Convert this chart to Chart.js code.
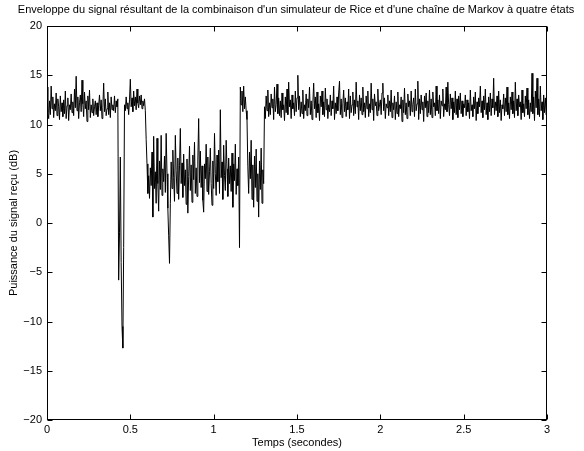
<!DOCTYPE html>
<html>
<head>
<meta charset="utf-8">
<script src="https://cdn.jsdelivr.net/npm/chart.js@4/dist/chart.umd.min.js"></script>
<style>
html, body { margin: 0; padding: 0; background: #fff; }
#wrap { width: 584px; height: 451px; }
</style>
</head>
<body>
<div id="wrap"><canvas id="envChart" width="584" height="451"></canvas></div>
<script>
// Enveloppe du signal : simulateur de Rice + chaîne de Markov à 4 états
const titre = "Enveloppe du signal résultant de la combinaison d'un simulateur de Rice et d'une chaîne de Markov à quatre états";
const labelX = "Temps (secondes)";
const labelY = "Puissance du signal reçu (dB)";
const ticksX = [0, 0.5, 1, 1.5, 2, 2.5, 3];
const ticksY = [-20, -15, -10, -5, 0, 5, 10, 15, 20];
const pasTemps = 0.005; // un échantillon toutes les 5 ms

// valeurs (dB), 20 par ligne = 0.1 s
const puissance = [
  13.8, 11.2, 10.6, 12.4, 11.0, 13.9, 11.6, 12.8, 10.7, 12.1, 11.4, 13.2, 10.9, 12.6, 11.8, 10.5, 12.9, 11.3, 12.2, 10.8, // 0.0
  12.5, 11.1, 13.4, 10.6, 11.9, 12.7, 10.4, 12.0, 11.5, 13.1, 11.2, 12.3, 10.9, 13.6, 11.7, 14.9, 11.4, 12.8, 10.6, 12.2, // 0.1
  13.0, 11.3, 14.5, 12.1, 10.8, 13.3, 11.6, 12.4, 10.3, 12.9, 11.5, 13.5, 10.7, 12.0, 11.2, 12.6, 10.9, 11.8, 12.4, 11.0, // 0.2
  12.2, 10.8, 11.9, 13.0, 11.4, 12.5, 10.6, 11.7, 14.2, 11.3, 12.6, 10.9, 11.6, 13.3, 11.0, 12.2, 10.7, 12.8, 11.5, 12.0, // 0.3
  11.4, 12.9, 11.2, 12.4, 11.8, 12.6, -5.8, -1.0, 6.7, -4.0, -10.5, -12.7, -2.5, 12.0, 11.4, 12.8, 11.6, 12.2, 11.0, 12.5, // 0.4
  14.6, 11.8, 12.7, 11.3, 13.4, 11.9, 12.8, 11.5, 13.6, 12.2, 11.7, 12.9, 12.0, 13.0, 11.6, 12.4, 11.9, 12.6, 11.4, 8.5, // 0.5
  6.0, 3.0, 4.8, 2.5, 5.6, 3.8, 7.2, 0.6, 8.8, 3.5, 5.2, 2.0, 8.6, 4.0, 1.2, 6.3, 3.4, 8.9, 2.8, 5.5, // 0.6
  4.2, 6.8, 3.1, 9.1, 5.0, 1.5, -1.3, -4.1, 2.0, 6.2, 3.5, 7.4, 4.6, 2.2, 8.9, 5.3, 3.0, 6.6, 2.4, 5.8, // 0.7
  9.6, 4.0, 6.1, 2.6, 7.0, 3.8, 5.4, 1.9, 6.5, 1.0, 4.7, 7.8, 3.3, 5.9, 2.1, 6.9, 4.4, 8.2, 3.0, 5.6, // 0.8
  2.7, 6.4, 10.6, 4.1, 7.3, 3.6, 5.8, 2.3, 1.1, 6.0, 4.5, 8.0, 3.2, 6.7, 2.9, 5.2, 7.6, 4.0, 1.8, 6.3, // 0.9
  3.5, 9.1, 5.0, 2.8, 6.9, 4.2, 7.4, 3.0, 11.5, 4.6, 6.2, 2.4, 7.9, 4.8, 3.3, 8.4, 5.5, 2.7, 6.6, 4.0, // 1.0
  5.8, 3.2, 7.1, 1.6, 6.0, 4.3, 8.0, 2.9, 5.5, 3.8, 6.7, -2.5, 13.8, 12.0, 13.4, 11.3, 13.9, 11.6, 12.8, 11.4, // 1.1
  10.5, 5.7, 3.0, 7.2, 4.5, 8.4, 2.4, 5.9, 1.6, 6.8, 3.6, 7.5, 2.2, 5.0, 0.6, 6.3, 3.4, 7.6, 2.0, 5.4, // 1.2
  4.0, 11.8, 10.6, 12.9, 11.4, 13.5, 10.8, 12.2, 11.0, 13.1, 11.7, 12.6, 10.5, 13.8, 11.3, 12.0, 14.1, 11.1, 12.7, 10.9, // 1.3
  12.4, 10.7, 13.2, 11.5, 12.0, 10.4, 12.8, 11.2, 13.6, 11.0, 14.3, 11.8, 12.5, 10.6, 13.0, 11.6, 12.2, 10.9, 13.4, 11.3, // 1.4
  12.7, 15.0, 11.5, 12.9, 10.8, 12.3, 11.1, 13.5, 10.6, 12.0, 11.4, 13.1, 10.9, 12.6, 11.7, 13.8, 11.0, 12.4, 10.5, 12.1, // 1.5
  14.2, 11.6, 12.8, 10.7, 13.3, 11.2, 12.1, 10.4, 12.9, 11.8, 13.4, 11.0, 12.3, 10.8, 13.7, 11.5, 12.6, 10.6, 12.0, 11.3, // 1.6
  13.0, 10.9, 12.4, 11.6, 13.9, 10.5, 12.2, 11.1, 12.8, 11.4, 13.2, 14.4, 11.0, 12.6, 10.7, 12.1, 13.5, 11.3, 12.7, 10.8, // 1.7
  12.3, 11.5, 13.6, 10.6, 12.9, 11.2, 12.0, 13.3, 10.9, 12.5, 11.1, 14.3, 11.8, 12.4, 10.5, 13.0, 11.4, 12.7, 11.0, 13.8, // 1.8
  11.3, 12.2, 10.7, 12.9, 11.6, 13.4, 10.8, 12.1, 11.2, 14.2, 11.5, 12.6, 10.4, 13.1, 11.9, 12.3, 10.9, 13.6, 11.4, 12.0, // 1.9
  12.5, 11.0, 13.2, 14.2, 11.4, 12.7, 10.6, 12.1, 11.7, 13.0, 10.9, 12.4, 11.3, 13.5, 10.7, 12.2, 11.5, 12.9, 10.5, 12.3, // 2.0
  11.1, 13.3, 10.8, 12.0, 11.6, 12.8, 10.3, 12.5, 11.2, 13.7, 11.0, 12.2, 10.6, 13.1, 11.8, 12.4, 10.9, 13.4, 11.3, 12.0, // 2.1
  12.7, 10.8, 13.6, 11.4, 12.1, 14.4, 10.5, 12.6, 11.1, 13.0, 11.5, 12.3, 10.3, 12.9, 11.7, 13.2, 10.8, 12.4, 11.2, 13.5, // 2.2
  11.0, 12.6, 10.7, 13.3, 11.8, 12.2, 10.9, 13.9, 11.4, 12.5, 11.1, 13.0, 10.6, 12.4, 11.9, 13.6, 10.8, 12.1, 11.5, 13.8, // 2.3
  11.3, 14.3, 12.0, 10.9, 13.1, 11.6, 12.7, 10.5, 12.3, 11.2, 13.4, 11.0, 12.6, 10.7, 12.9, 11.5, 13.2, 11.1, 12.4, 10.8, // 2.4
  12.1, 11.7, 13.0, 10.9, 12.5, 11.3, 12.2, 10.6, 13.5, 11.4, 12.0, 10.8, 12.8, 11.6, 13.3, 10.4, 12.3, 11.1, 12.7, 11.8, // 2.5
  13.9, 11.2, 12.4, 10.7, 12.9, 11.5, 13.6, 11.0, 12.2, 10.5, 12.8, 11.3, 13.2, 10.9, 12.6, 11.7, 14.7, 11.0, 12.3, 11.4, // 2.6
  12.9, 10.8, 13.4, 11.2, 12.5, 10.4, 12.0, 11.6, 13.1, 10.9, 12.7, 11.3, 13.8, 11.0, 12.2, 10.6, 12.8, 11.5, 13.3, 11.1, // 2.7
  12.4, 10.7, 14.3, 11.4, 12.6, 10.9, 13.0, 11.8, 12.3, 10.5, 13.5, 11.2, 12.1, 10.8, 12.9, 11.6, 13.7, 11.0, 12.5, 10.6, // 2.8
  12.2, 11.3, 15.2, 11.1, 12.8, 10.4, 13.4, 11.7, 14.7, 11.0, 12.6, 10.8, 13.9, 11.4, 12.3, 10.5, 13.0, 11.2, 12.7, 11.0, // 2.9
  11.5 // 3.0
];

const police = "'Liberation Sans', Arial, Helvetica, sans-serif";

function formatTick(v) {
  return String(v).replace('-', '\u2212');
}

// cadre + graduations vers l'intérieur, façon MATLAB
const cadreMatlab = {
  id: 'cadreMatlab',
  afterDatasetsDraw(chart) {
    const ctx = chart.ctx;
    const a = chart.chartArea;
    const sx = chart.scales.x, sy = chart.scales.y;
    const L = Math.round(a.left) + 0.5, R = Math.round(a.right) - 0.5;
    const T = Math.round(a.top) + 0.5, B = Math.round(a.bottom) - 0.5;
    ctx.save();
    ctx.strokeStyle = '#000';
    ctx.lineWidth = 1;
    ctx.strokeRect(L, T, R - L, B - T);
    ctx.beginPath();
    ticksX.forEach(v => {
      const px = Math.round(sx.getPixelForValue(v)) + 0.5;
      ctx.moveTo(px, B); ctx.lineTo(px, B - 5);
      ctx.moveTo(px, T); ctx.lineTo(px, T + 5);
    });
    ticksY.forEach(v => {
      const py = Math.round(sy.getPixelForValue(v)) + 0.5;
      ctx.moveTo(L, py); ctx.lineTo(L + 5, py);
      ctx.moveTo(R, py); ctx.lineTo(R - 5, py);
    });
    ctx.stroke();
    ctx.restore();
  }
};

// pas de grille, pas de graduations Chart.js (on les dessine nous-mêmes)
const sansGrille = { display: true, drawOnChartArea: false, drawTicks: false, color: 'rgba(0,0,0,0)' };

function loadChart() {
  const ctx = document.getElementById('envChart');
  if (!ctx) return;

  const points = puissance.map((v, i) => ({ x: i * pasTemps, y: v }));

  new Chart(ctx, {
    type: 'scatter',
    data: {
      datasets: [{
        data: points,
        showLine: true,
        borderColor: '#000',
        borderWidth: 1,
        pointRadius: 0,
        tension: 0
      }]
    },
    options: {
      responsive: false,
      animation: false,
      devicePixelRatio: 1,
      // marge gauche pour centrer le titre sur les axes comme MATLAB
      layout: { padding: { left: 8, right: 0, top: 0, bottom: 0 } },
      plugins: {
        legend: { display: false },
        tooltip: { enabled: false },
        title: {
          display: true,
          text: titre,
          color: '#000',
          font: { family: police, size: 11, weight: 'normal' },
          padding: { top: 3, bottom: 9.8 }
        }
      },
      scales: {
        x: {
          type: 'linear',
          min: 0, max: 3,
          afterBuildTicks: s => { s.ticks = ticksX.map(v => ({ value: v })); },
          afterFit: s => { s.height = 31; },
          grid: sansGrille,
          border: { display: false },
          ticks: { color: '#000', padding: 3, maxRotation: 0, font: { family: police, size: 11 }, callback: formatTick },
          title: { display: true, text: labelX, color: '#000', padding: { top: 0, bottom: 1 }, font: { family: police, size: 11 } }
        },
        y: {
          type: 'linear',
          min: -20, max: 20,
          afterBuildTicks: s => { s.ticks = ticksY.map(v => ({ value: v })); },
          afterFit: s => { s.width = 39; },
          grid: sansGrille,
          border: { display: false },
          ticks: { color: '#000', padding: 5, font: { family: police, size: 11 }, callback: formatTick },
          title: { display: true, text: labelY, color: '#000', padding: { top: -1, bottom: 0 }, font: { family: police, size: 11 } }
        },
        droite: {
          type: 'linear',
          position: 'right',
          min: -20, max: 20,
          afterFit: s => { s.width = 37; },
          grid: { display: false },
          border: { display: false },
          ticks: { display: false }
        }
      }
    },
    plugins: [cadreMatlab]
  });
}

document.addEventListener("DOMContentLoaded", function () {
  loadChart();
});
</script>
</body>
</html>
